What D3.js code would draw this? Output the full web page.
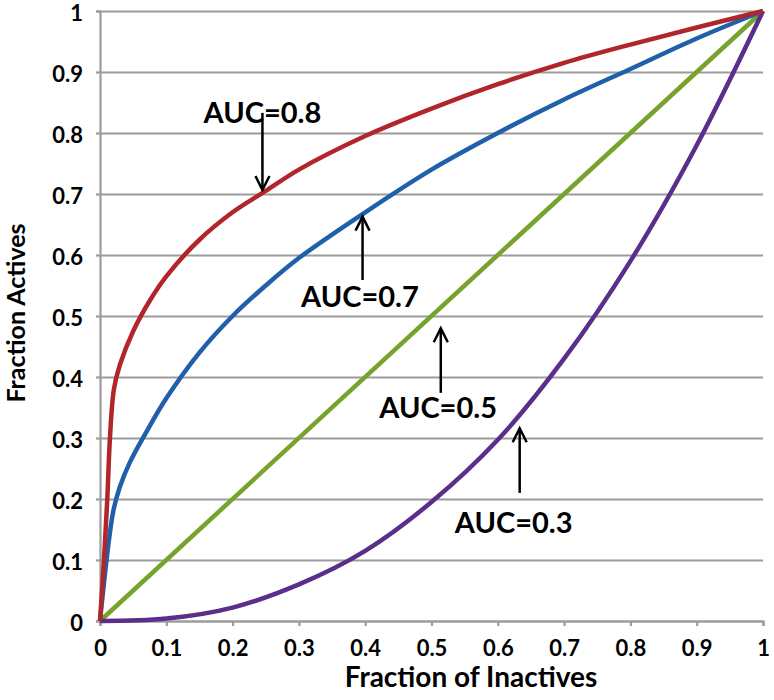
<!DOCTYPE html>
<meta charset="utf-8">
<script src="https://d3js.org/d3.v7.min.js"></script>
<style>
  body { margin: 0; background: #fff; }
  text { font-family: Lato, "Open Sans", sans-serif; font-weight: bold; fill: #000; }
</style>
<div id="my_dataviz"></div>
<script>

  // ROC curves
  var redX = [0, 0.006, 0.011, 0.015, 0.021, 0.03, 0.05, 0.075, 0.1, 0.15, 0.2, 0.25, 0.3, 0.4, 0.5, 0.6, 0.7, 0.8, 0.9, 1];
  var redY = [0, 0.1, 0.2, 0.3, 0.38, 0.42, 0.475, 0.525, 0.565, 0.625, 0.67, 0.705, 0.74, 0.795, 0.84, 0.88, 0.915, 0.945, 0.973, 1];

  var blueX = [0, 0.02, 0.03, 0.045, 0.07, 0.1, 0.15, 0.2, 0.25, 0.3, 0.4, 0.5, 0.6, 0.7, 0.8, 0.9, 1];
  var blueY = [0, 0.18, 0.22, 0.26, 0.31, 0.365, 0.44, 0.5, 0.55, 0.595, 0.67, 0.74, 0.8, 0.855, 0.905, 0.955, 1];

  var greenX = [0, 1];
  var greenY = [0, 1];

  var purpleX = [0, 0.1, 0.2, 0.3, 0.4, 0.5, 0.6, 0.7, 0.8, 0.9, 1];
  var purpleY = [0, 0.004, 0.022, 0.06, 0.115, 0.195, 0.297, 0.43, 0.59, 0.78, 1];

  // tick values and labels (same for both axes)
  var tickValues = [0, 0.1, 0.2, 0.3, 0.4, 0.5, 0.6, 0.7, 0.8, 0.9, 1];
  var tickLabels = ["0", "0.1", "0.2", "0.3", "0.4", "0.5", "0.6", "0.7", "0.8", "0.9", "1"];

  // annotations: label, text centre x, text baseline y, arrow x, arrow start y, arrow tip y
  var annLabels = ["AUC=0.8", "AUC=0.7", "AUC=0.5", "AUC=0.3"];
  var annTextX = [0.245, 0.392, 0.51, 0.624];
  var annTextY = [0.816, 0.515, 0.333, 0.144];
  var annArrowX = [0.245, 0.396, 0.514, 0.633];
  var annArrowFrom = [0.833, 0.559, 0.374, 0.21];
  var annArrowTo = [0.7066, 0.663, 0.48, 0.316];

  var margin = {top: 11, right: 11, bottom: 79, left: 100},
    width = 774 - margin.left - margin.right,
    height = 700 - margin.top - margin.bottom;

  var svg = d3.select("#my_dataviz")
    .append("svg")
      .attr("width", 774)
      .attr("height", 700)
    .append("g")
      .attr("transform", "translate(" + margin.left + "," + margin.top + ")");

  var x = d3.scaleLinear().domain([0, 1]).range([0, width]);
  var y = d3.scaleLinear().domain([0, 1]).range([height, 0]);

  var gridColor = "#9c9c9c";

  // horizontal gridlines
  svg.append("g")
    .call(d3.axisLeft(y).tickValues(tickValues).tickSize(-width).tickFormat(""))
    .call(function(g) {
      g.select(".domain").remove();
      g.selectAll("line").attr("stroke", gridColor).attr("stroke-width", 2.2);
    });

  // y axis
  svg.append("g")
    .call(d3.axisLeft(y).tickValues(tickValues).tickSize(4).tickPadding(13)
      .tickFormat(function(d, i) { return tickLabels[i]; }))
    .call(function(g) {
      g.select(".domain").attr("stroke", gridColor).attr("stroke-width", 2.2);
      g.selectAll("line").attr("stroke", gridColor).attr("stroke-width", 2.2);
      g.selectAll("text")
        .attr("dy", "0.45em")
        .style("font-size", "22px").style("font-family", "Lato, sans-serif").style("font-weight", "bold");
    });

  // x axis
  svg.append("g")
    .attr("transform", "translate(0," + height + ")")
    .call(d3.axisBottom(x).tickValues(tickValues).tickSize(5).tickPadding(14)
      .tickFormat(function(d, i) { return tickLabels[i]; }))
    .call(function(g) {
      g.select(".domain").attr("stroke", gridColor).attr("stroke-width", 2.2);
      g.selectAll("line").attr("stroke", gridColor).attr("stroke-width", 2.2);
      g.selectAll("text").style("font-size", "22px").style("font-family", "Lato, sans-serif").style("font-weight", "bold");
    });

  // curves
  var series = [
    {xs: greenX, ys: greenY, color: "#77a22c"},
    {xs: purpleX, ys: purpleY, color: "#5a2e8a"},
    {xs: blueX, ys: blueY, color: "#2060aa"},
    {xs: redX, ys: redY, color: "#b1262b"}
  ];

  var line = d3.line()
    .x(function(d) { return x(d[0]); })
    .y(function(d) { return y(d[1]); })
    .curve(d3.curveCatmullRom.alpha(0.5));

  series.forEach(function(s) {
    var pts = s.xs.map(function(v, i) { return [v, s.ys[i]]; });
    svg.append("path")
      .datum(pts)
      .attr("fill", "none")
      .attr("stroke", s.color)
      .attr("stroke-width", 4.5)
      .attr("stroke-linejoin", "round")
      .attr("d", line);
  });

  // annotations
  annLabels.forEach(function(lab, i) {
    var ax = x(annArrowX[i]), y0 = y(annArrowFrom[i]), y1 = y(annArrowTo[i]);
    var dir = y1 > y0 ? 1 : -1;
    svg.append("line")
      .attr("x1", ax).attr("y1", y0)
      .attr("x2", ax).attr("y2", y1)
      .attr("stroke", "#000").attr("stroke-width", 2.5);
    svg.append("path")
      .attr("d", "M" + (ax - 7) + "," + (y1 - dir * 14) + "L" + ax + "," + y1 + "L" + (ax + 7) + "," + (y1 - dir * 14))
      .attr("fill", "none").attr("stroke", "#000").attr("stroke-width", 2.5);
    svg.append("text")
      .attr("x", x(annTextX[i]))
      .attr("y", y(annTextY[i]))
      .attr("text-anchor", "middle")
      .style("font-size", "29px")
      .text(lab);
  });

  // axis titles
  svg.append("text")
    .attr("x", 371)
    .attr("y", 676)
    .attr("text-anchor", "middle")
    .style("font-size", "28px")
    .text("Fraction of Inactives");

  svg.append("text")
    .attr("transform", "translate(-75," + 302 + ") rotate(-90)")
    .attr("text-anchor", "middle")
    .style("font-size", "25px")
    .text("Fraction Actives");

</script>
